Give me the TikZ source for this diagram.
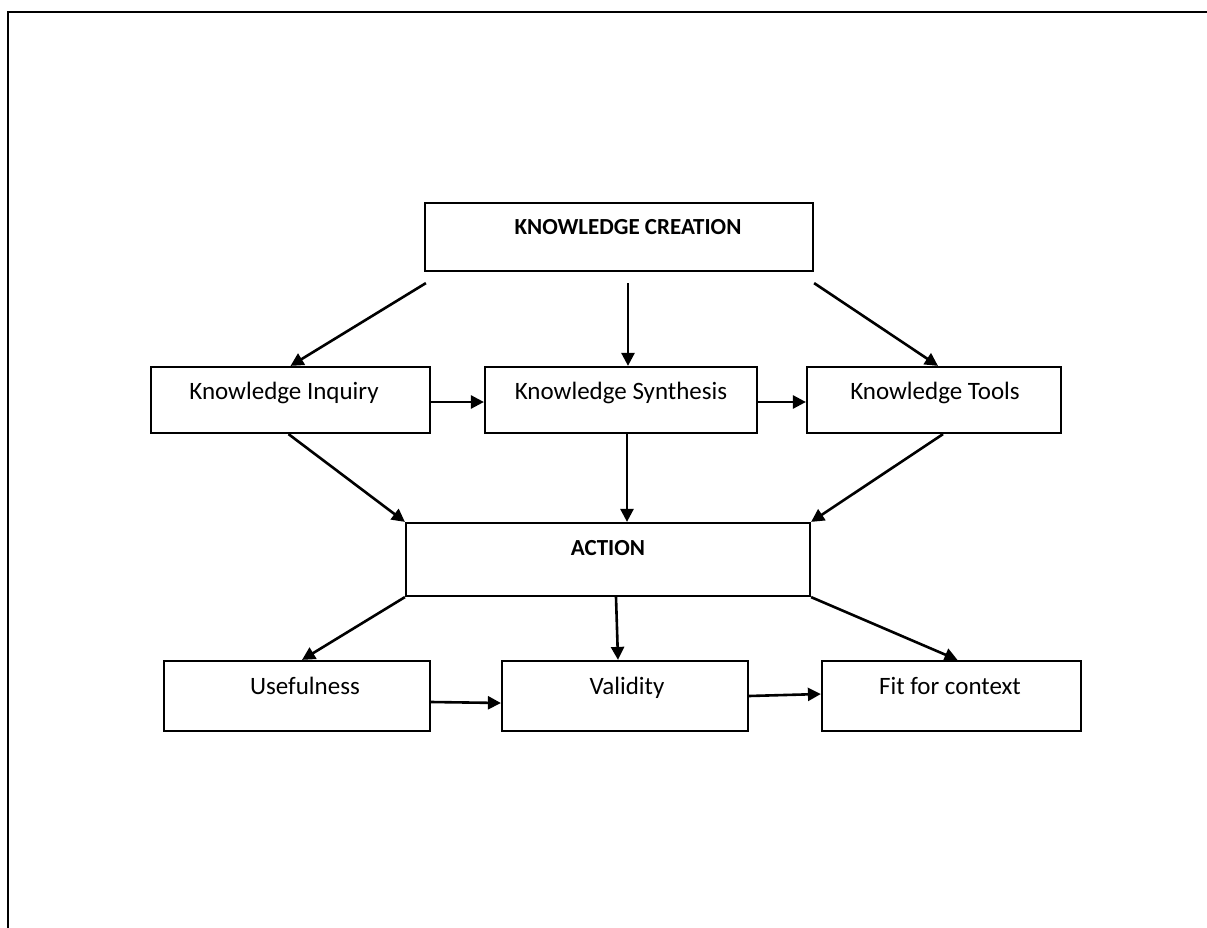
\documentclass[tikz,border=0pt]{standalone}
\usepackage{fontspec}
\setmainfont{Carlito}
\usetikzlibrary{arrows.meta}
\begin{document}
\begin{tikzpicture}[x=1pt,y=-1pt,
  box/.style={draw, line width=2.2pt, rectangle, inner sep=0pt},
  txt/.style={font=\fontsize{25}{30}\selectfont, inner sep=0pt, text height=0.75em, text depth=0.25em},
  btxt/.style={font=\fontsize{23}{28}\selectfont\bfseries, inner sep=0pt},
  arr/.style={line width=2.6pt, -{Triangle[length=13pt,width=13pt]}}]
\useasboundingbox (0,0) rectangle (1207,928);
\fill[white] (0,0) rectangle (1207,928);
\draw[line width=2.4pt] (1207,12) -- (8,12) -- (8,928);
% boxes
\node[box, minimum width=388pt, minimum height=68pt] (kc) at (619,237) {};
\node[box, minimum width=279pt, minimum height=66pt] (ki) at (290.5,400) {};
\node[box, minimum width=272pt, minimum height=66pt] (ks) at (621,400) {};
\node[box, minimum width=254pt, minimum height=66pt] (kt) at (934,400) {};
\node[box, minimum width=404pt, minimum height=73pt] (act) at (608,559.5) {};
\node[box, minimum width=266pt, minimum height=70pt] (use) at (297,696) {};
\node[box, minimum width=246pt, minimum height=70pt] (val) at (625,696) {};
\node[box, minimum width=259pt, minimum height=70pt] (fit) at (951.5,696) {};
% texts
\node[btxt] (kct) at (628,227) {KNOWLEDGE CREATION};
\node[txt] (kit) at (284,397) {Knowledge Inquiry};
\node[txt] (kst) at (621,397) {Knowledge Synthesis};
\node[txt] (ktt) at (935,397) {Knowledge Tools};
\node[btxt] (actt) at (608,548) {ACTION};
\node[txt] (uset) at (305,692) {Usefulness};
\node[txt] (valt) at (627,692) {Validity};
\node[txt] (fitt) at (950,692) {Fit for context};
% arrows
\draw[arr] ([xshift=2pt,yshift=-11pt]kc.south west) -- (ki.north);
\draw[arr] ([xshift=9pt,yshift=-11pt]kc.south) -- ([xshift=7pt]ks.north);
\draw[arr] ([yshift=-11pt]kc.south east) -- ([xshift=4pt]kt.north);
\draw[arr] ([yshift=-2pt]ki.east) -- ([yshift=-2pt]ks.west);
\draw[arr] ([yshift=-2pt]ks.east) -- ([yshift=-2pt]kt.west);
\draw[arr] ([xshift=-2pt]ki.south) -- (act.north west);
\draw[arr] ([xshift=6pt]ks.south) -- ([xshift=19pt]act.north);
\draw[arr] ([xshift=9pt]kt.south) -- (act.north east);
\draw[arr] (act.south west) -- ([xshift=5pt]use.north);
\draw[arr] ([xshift=8pt]act.south) -- ([xshift=-7pt]val.north);
\draw[arr] (act.south east) -- ([xshift=6pt]fit.north);
\draw[arr] ([yshift=-6pt]use.east) -- ([yshift=-7pt]val.west);
\draw[arr] (val.east) -- ([yshift=2pt]fit.west);
\end{tikzpicture}
\end{document}
